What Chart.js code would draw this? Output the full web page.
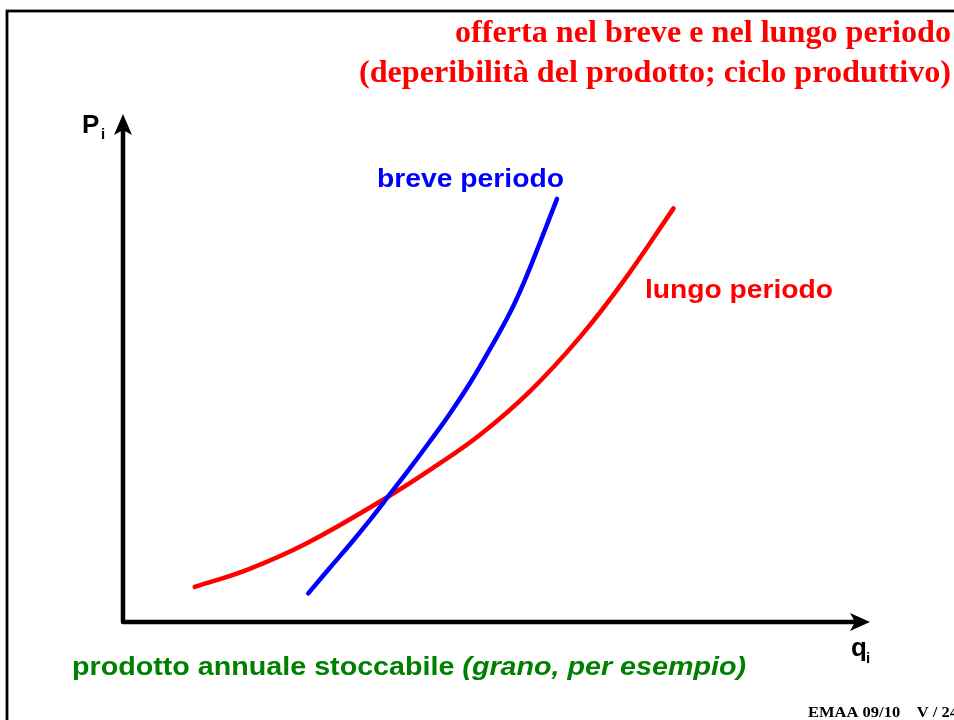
<!DOCTYPE html>
<html>
<head>
<meta charset="utf-8">
<script src="https://cdn.jsdelivr.net/npm/chart.js@4.4.1/dist/chart.umd.min.js"></script>
<style>
html,body{margin:0;padding:0;background:#fff;}
#wrap{width:954px;height:720px;position:relative;}
</style>
</head>
<body>
<div id="wrap"><canvas id="c" width="954" height="720"></canvas></div>
<script>
// ---- data ----
const titleLines = ["offerta nel breve e nel lungo periodo", "(deperibilità del prodotto; ciclo produttivo)"];
const seriesNames = ["breve periodo", "lungo periodo"];
const axisLabels = ["P", "q"];
const footNote = "prodotto annuale stoccabile ";
const footNoteItalic = "(grano, per esempio)";
const pageTag = "EMAA 09/10    V / 24";

const shortX = [24.8, 27.7, 30.4, 33.1, 35.7, 38.4, 41.1, 43.8, 46.5, 49.1, 51.8, 53.8, 55.8, 58.1];
const shortY = [5.7, 10.8, 15.5, 20.4, 25.4, 30.6, 36.0, 41.6, 47.7, 54.3, 61.6, 68.1, 75.5, 84.3];
const longX  = [9.6, 16.6, 24.6, 35.3, 41.5, 47.8, 54.5, 61.2, 67.0, 73.7];
const longY  = [7.0, 10.4, 15.7, 24.8, 30.7, 37.3, 46.0, 56.8, 67.9, 82.4];

const toPts = (xs, ys) => xs.map((x, i) => ({x: x, y: ys[i]}));

function fitText(ctx, text, x, y, targetW, font, color, align) {
  ctx.save();
  ctx.font = font;
  ctx.fillStyle = color;
  ctx.textBaseline = 'alphabetic';
  const w = ctx.measureText(text).width;
  const s = targetW ? targetW / w : 1;
  ctx.translate(x, y);
  ctx.scale(s, 1);
  ctx.textAlign = align || 'left';
  ctx.fillText(text, 0, 0);
  ctx.restore();
}

const decor = {
  id: 'decor',
  beforeDraw(chart) {
    const ctx = chart.ctx;
    ctx.save();
    ctx.fillStyle = '#fff';
    ctx.fillRect(0, 0, chart.width, chart.height);
    ctx.strokeStyle = '#000';
    ctx.lineWidth = 2.8;
    ctx.strokeRect(7, 11, 1000, 800);
    ctx.restore();
  },
  afterDatasetsDraw(chart) {
    const ctx = chart.ctx;
    const xs = chart.scales.x, ys = chart.scales.y;
    const ox = xs.getPixelForValue(0), oy = ys.getPixelForValue(0);
    const xe = xs.getPixelForValue(xs.max), ye = ys.getPixelForValue(ys.max);
    ctx.save();
    ctx.strokeStyle = '#000';
    ctx.fillStyle = '#000';
    ctx.lineWidth = 4.5;
    ctx.lineCap = 'round';
    ctx.beginPath();
    ctx.moveTo(ox, oy); ctx.lineTo(ox, ye + 10);
    ctx.moveTo(ox, oy); ctx.lineTo(xe - 10, oy);
    ctx.stroke();
    // y arrow
    ctx.beginPath();
    ctx.moveTo(ox, ye - 6);
    ctx.lineTo(ox + 9, ye + 15);
    ctx.lineTo(ox, ye + 10);
    ctx.lineTo(ox - 9, ye + 15);
    ctx.closePath(); ctx.fill();
    // x arrow
    ctx.beginPath();
    ctx.moveTo(xe, oy);
    ctx.lineTo(xe - 20, oy - 9);
    ctx.lineTo(xe - 15, oy);
    ctx.lineTo(xe - 20, oy + 9);
    ctx.closePath(); ctx.fill();
    ctx.restore();

    // titles
    const tf = 'bold 32px "Liberation Serif", "Times New Roman", serif';
    ctx.save(); ctx.font = tf;
    const w2 = ctx.measureText(titleLines[1]).width;
    const w1 = ctx.measureText(titleLines[0]).width;
    ctx.restore();
    const sc = 592 / w2;
    fitText(ctx, titleLines[0], 951, 42, w1 * sc, tf, '#ff0000', 'right');
    fitText(ctx, titleLines[1], 951, 82, w2 * sc, tf, '#ff0000', 'right');

    // curve labels
    const lf = 'bold 25px "Liberation Sans", Arial, sans-serif';
    fitText(ctx, seriesNames[0], 377, 187, 187, lf, '#0000ff', 'left');
    fitText(ctx, seriesNames[1], 645, 298, 188, lf, '#ff0000', 'left');

    // axis labels
    const af = 'bold 26px "Liberation Sans", Arial, sans-serif';
    const sf = 'bold 15px "Liberation Sans", Arial, sans-serif';
    fitText(ctx, axisLabels[0], 82, 133, 0, af, '#000', 'left');
    fitText(ctx, 'i', 101, 139, 0, sf, '#000', 'left');
    fitText(ctx, axisLabels[1], 851, 656, 0, af, '#000', 'left');
    fitText(ctx, 'i', 866, 663, 0, sf, '#000', 'left');

    // bottom note
    const gf = 'bold 25px "Liberation Sans", Arial, sans-serif';
    const gfi = 'italic bold 25px "Liberation Sans", Arial, sans-serif';
    ctx.save();
    ctx.font = gf; const wa = ctx.measureText(footNote).width;
    ctx.font = gfi; const wb = ctx.measureText(footNoteItalic).width;
    ctx.restore();
    const gs = 674 / (wa + wb);
    fitText(ctx, footNote, 72, 675, wa * gs, gf, '#008000', 'left');
    fitText(ctx, footNoteItalic, 72 + wa * gs, 675, wb * gs, gfi, '#008000', 'left');

    // page tag
    fitText(ctx, pageTag, 808, 717, 150, 'bold 15px "Liberation Serif", "Times New Roman", serif', '#000', 'left');
  }
};

new Chart(document.getElementById('c'), {
  type: 'scatter',
  data: {
    datasets: [
      {
        label: seriesNames[0],
        data: toPts(shortX, shortY),
        showLine: true,
        borderColor: '#0000ff',
        borderWidth: 4.5,
        borderCapStyle: 'round',
        borderJoinStyle: 'round',
        pointRadius: 0,
        tension: 0.4,
        fill: false
      },
      {
        label: seriesNames[1],
        data: toPts(longX, longY),
        showLine: true,
        borderColor: '#ff0000',
        borderWidth: 4.5,
        borderCapStyle: 'round',
        borderJoinStyle: 'round',
        pointRadius: 0,
        tension: 0.4,
        fill: false
      }
    ]
  },
  options: {
    responsive: false,
    animation: false,
    layout: { padding: { left: 123, right: 84, top: 120, bottom: 98 } },
    plugins: { legend: { display: false }, tooltip: { enabled: false } },
    scales: {
      x: { type: 'linear', min: 0, max: 100, display: false },
      y: { type: 'linear', min: 0, max: 100, display: false }
    }
  },
  plugins: [decor]
});
</script>
</body>
</html>
